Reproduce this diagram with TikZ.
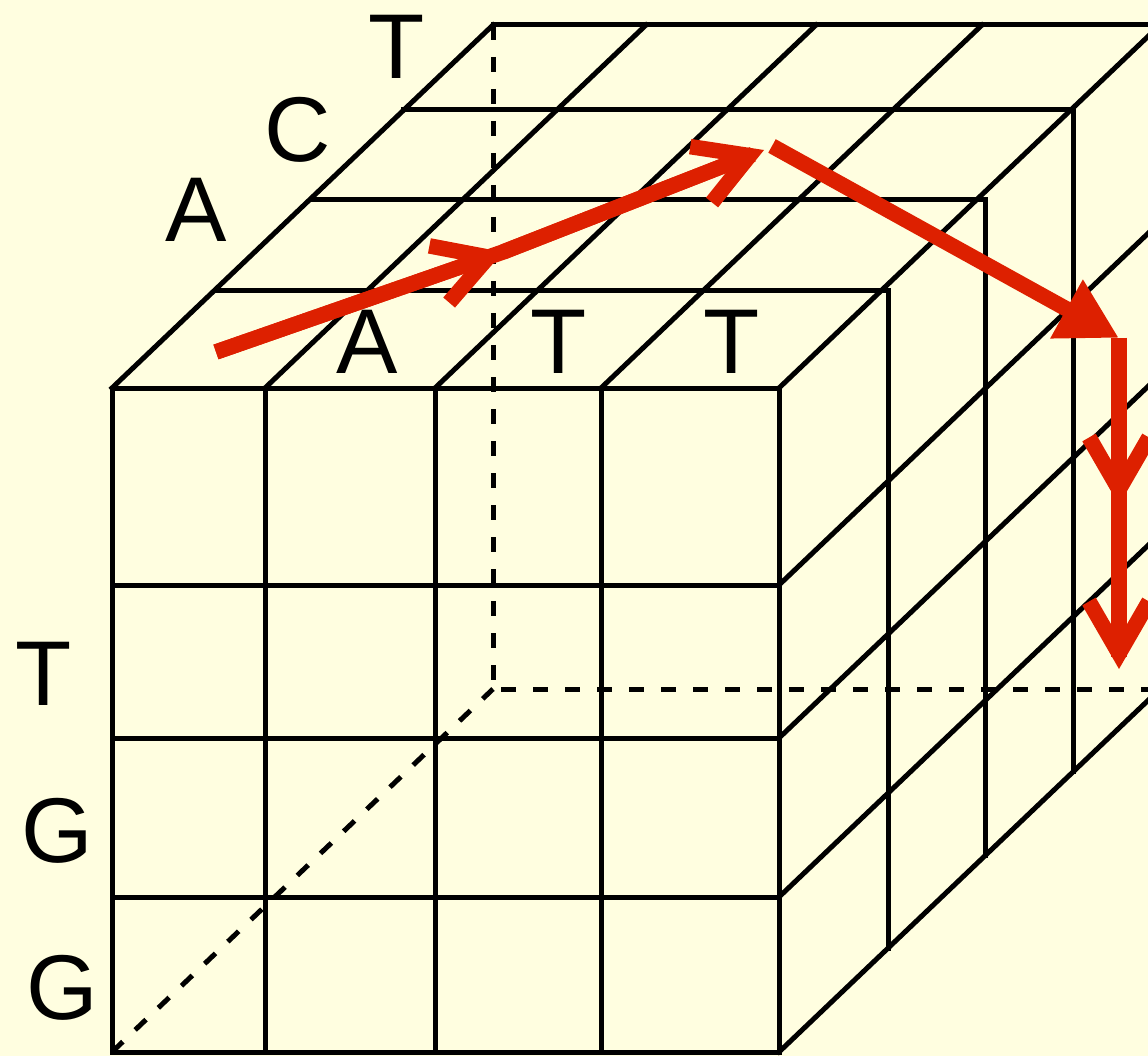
\documentclass[tikz,border=0pt]{standalone}
\usepackage{fontspec}
\setmainfont{Liberation Sans}
\usetikzlibrary{arrows.meta}
\definecolor{cubebg}{HTML}{FFFEE0}
\definecolor{pathred}{HTML}{DD2000}

\begin{document}
\begin{tikzpicture}[x=1pt,y=-1pt,
  grid/.style={line width=5pt,line cap=rect},
  hidden/.style={line width=5pt,dash pattern=on 15pt off 17pt},
  trail/.style={pathred,line width=15.5pt},
  barb/.style={trail,-{Straight Barb[length=52pt,width=60pt]}},
  lastleg/.style={trail,-{Triangle[length=60pt,width=63pt]}},
  seq/.style={font=\fontsize{92}{92}\selectfont,inner sep=0pt}]
  \useasboundingbox (0,0) rectangle (1148,1056);
  \fill[cubebg] (0,0) rectangle (1148,1056);
  \clip (0,0) rectangle (1148,1056);
  % front face
  \foreach \x in {112,265,435,601,779}
    \draw[grid] (\x,388) -- (\x,1052);
  \foreach \y in {388,585,738,897,1052}
    \draw[grid] (112,\y) -- (779,\y);
  % top face and right face, layer by layer
  \foreach \l/\r/\y in {216/888/291,311/985/200,403/1073/110,493/1160/25} {
    \draw[grid] (\l,\y) -- (\r,\y);
    \draw[grid] (\r,\y) -- (\r,{1052-(\r-779)/381*363});
  }
  \foreach \x in {112,265,435,601,779}
    \draw[grid] (\x,388) -- (\x+381,25);
  \foreach \y in {585,738,897,1052}
    \draw[grid] (779,\y) -- (1160,\y-363);
  % hidden edges
  \draw[hidden] (493,25) -- (493,689) -- (1160,689);
  \draw[hidden] (112,1052) -- (493,689);

  \node[seq] (tTop) at (397,47) {T};
  \node[seq] (cTop) at (298,130) {C};
  \node[seq] (aTop) at (196,210) {A};
  \node[seq] (aRow) at (367,342) {A};
  \node[seq] (tRowA) at (559,342) {T};
  \node[seq] (tRowB) at (732,342) {T};
  \node[seq] (tCol) at (44,674) {T};
  \node[seq] (gColA) at (57,831) {G};
  \node[seq] (gColB) at (62,988) {G};

  \coordinate (start) at (216,352);
  \coordinate (mid) at (503,252);
  \coordinate (peak) at (764,150);
  \coordinate (leave) at (772,146);
  \coordinate (corner) at (1119,338);
  \coordinate (drop) at (1119,505);
  \coordinate (bottom) at (1119,669);
  \draw[trail,shorten >=12pt] (start) -- (mid) -- (peak);
  \draw[trail,shorten >=12pt] (corner) -- (drop) -- (bottom);
  \draw[barb] (start) -- (mid);
  \draw[barb] (mid) -- (peak);
  \draw[lastleg] (leave) -- (corner);
  \draw[barb] (corner) -- (drop);
  \draw[barb] (drop) -- (bottom);
\end{tikzpicture}
\end{document}
